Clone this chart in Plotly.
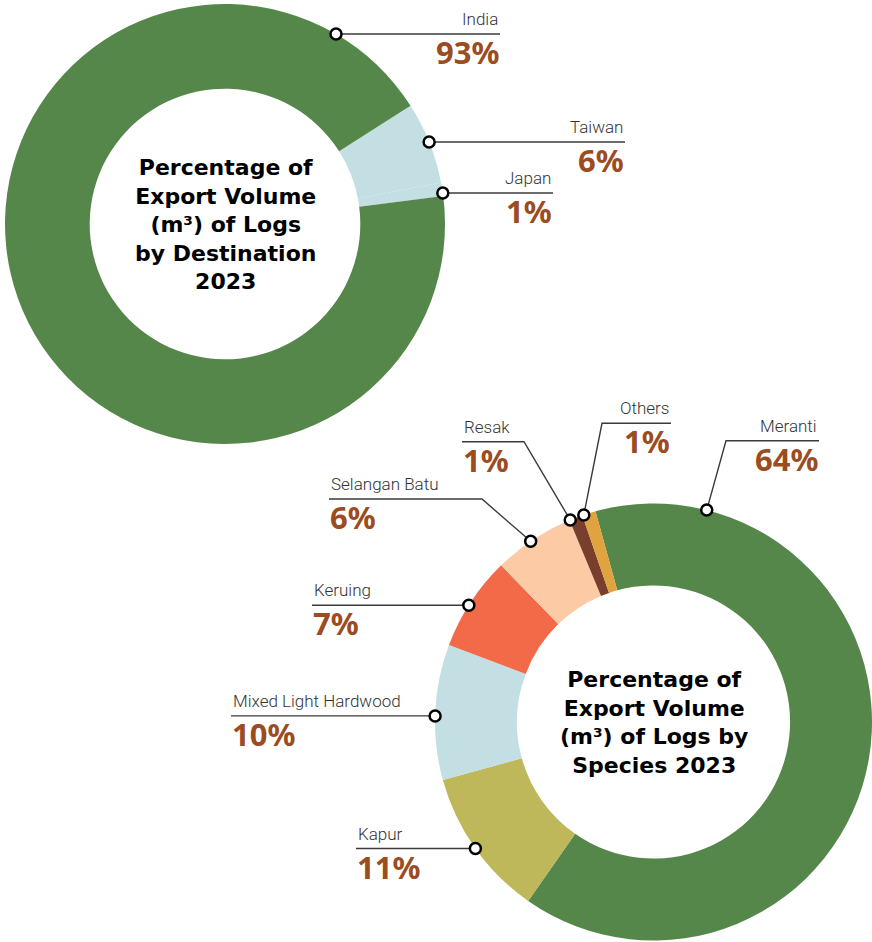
import math
import plotly.graph_objects as go

# --- data -------------------------------------------------------------
dest_labels = ["Taiwan", "Japan", "India"]
dest_values = [6, 1, 93]
dest_colors = ["#C3DFE3", "#C3DFE3", "#56874A"]

species_labels = ["Meranti", "Kapur", "Mixed Light Hardwood", "Keruing",
                  "Selangan Batu", "Resak", "Others"]
species_values = [64, 11, 10, 7, 6, 1, 1]
species_colors = ["#56874A", "#BEB85A", "#C3DFE3", "#F26A47",
                  "#FCCBA6", "#7A3F2C", "#E0A33F"]

W, H = 872, 942
TEXT_BROWN = "#9B4C20"
LINE_COL = "#3a3a3a"

# pie geometry in pixels
top_pie = dict(cx=225, cy=224, r=220)
bot_pie = dict(cx=653.5, cy=722, r=218.5)


def domain(p):
    return dict(x=[(p["cx"] - p["r"]) / W, (p["cx"] + p["r"]) / W],
                y=[1 - (p["cy"] + p["r"]) / H, 1 - (p["cy"] - p["r"]) / H])


def on_ring(p, angle):
    a = math.radians(angle)
    return p["cx"] + p["r"] * math.sin(a), p["cy"] - p["r"] * math.cos(a)


fig = go.Figure()
fig.add_trace(go.Pie(labels=dest_labels, values=dest_values, sort=False,
                     direction="clockwise", rotation=57.5, hole=0.615,
                     marker=dict(colors=dest_colors, line=dict(width=0)),
                     textinfo="none", hoverinfo="label+percent",
                     domain=domain(top_pie), showlegend=False))
fig.add_trace(go.Pie(labels=species_labels, values=species_values, sort=False,
                     direction="clockwise", rotation=-15.4, hole=0.625,
                     marker=dict(colors=species_colors, line=dict(width=0)),
                     textinfo="none", hoverinfo="label+percent",
                     domain=domain(bot_pie), showlegend=False))

# label callouts: (pie, name, value, dot angle, elbow, line end x, text side)
callouts = [
    (top_pie, "India", dest_values[2], 30.3, None, 500, "right"),
    (top_pie, "Taiwan", dest_values[0], 68.1, None, 625, "right"),
    (top_pie, "Japan", dest_values[1], 81.9, None, 553, "right"),
    (bot_pie, "Meranti", species_values[0], 14.1, (726, 440.7), 819, "right"),
    (bot_pie, "Others", species_values[6], 341.4, (602, 423.3), 671, "right"),
    (bot_pie, "Resak", species_values[5], 337.6, (524, 441.7), 462, "left"),
    (bot_pie, "Selangan Batu", species_values[4], 325.8, (482, 499), 329, "left"),
    (bot_pie, "Keruing", species_values[3], 302.3, None, 312, "left"),
    (bot_pie, "Mixed Light Hardwood", species_values[2], 271.6, None, 231, "left"),
    (bot_pie, "Kapur", species_values[1], 234.6, None, 356, "left"),
]

shapes, annotations = [], []
for p, name, val, ang, elbow, x_end, side in callouts:
    dx, dy = on_ring(p, ang)
    if elbow is None:
        ly = dy
        path = f"M{dx},{dy} L{x_end},{dy}"
    else:
        ly = elbow[1]
        path = f"M{dx},{dy} L{elbow[0]},{elbow[1]} L{x_end},{elbow[1]}"
    shapes.append(dict(type="path", path=path, xref="x", yref="y", layer="above",
                       line=dict(color=LINE_COL, width=1.4)))
    shapes.append(dict(type="circle", xref="x", yref="y", layer="above",
                       x0=dx - 5.5, x1=dx + 5.5, y0=dy - 5.5, y1=dy + 5.5,
                       fillcolor="white", line=dict(color="black", width=2.5)))
    annotations.append(dict(x=x_end, y=ly - 15, xref="x", yref="y", text=name,
                            showarrow=False, xanchor=side, yanchor="middle",
                            font=dict(family="Roboto", size=17, color="#333333",
                                      weight=300)))
    annotations.append(dict(x=x_end + (1 if side == "right" else -1), y=ly + 18,
                            xref="x", yref="y", text=f"{val}%",
                            showarrow=False, xanchor=side, yanchor="middle",
                            font=dict(family="Noto Sans", size=31, color=TEXT_BROWN,
                                      weight=700)))

title_font = dict(family="DejaVu Sans", size=22, color="black", weight=700)
annotations.append(dict(x=top_pie["cx"], y=top_pie["cy"], xref="x", yref="y",
                        text="Percentage of<br>Export Volume<br>(m³) of Logs<br>by Destination<br>2023",
                        showarrow=False, align="center", font=title_font))
annotations.append(dict(x=bot_pie["cx"], y=bot_pie["cy"], xref="x", yref="y",
                        text="Percentage of<br>Export Volume<br>(m³) of Logs by<br>Species 2023",
                        showarrow=False, align="center", font=title_font))

fig.update_layout(
    width=W, height=H,
    margin=dict(l=0, r=0, t=0, b=0),
    paper_bgcolor="white", plot_bgcolor="white",
    xaxis=dict(range=[0, W], visible=False, fixedrange=True, domain=[0, 1]),
    yaxis=dict(range=[H, 0], visible=False, fixedrange=True, domain=[0, 1]),
    shapes=shapes, annotations=annotations, showlegend=False,
)

fig.write_html("out.html", config={"displayModeBar": False},
               post_script="document.body.style.margin='0';")
